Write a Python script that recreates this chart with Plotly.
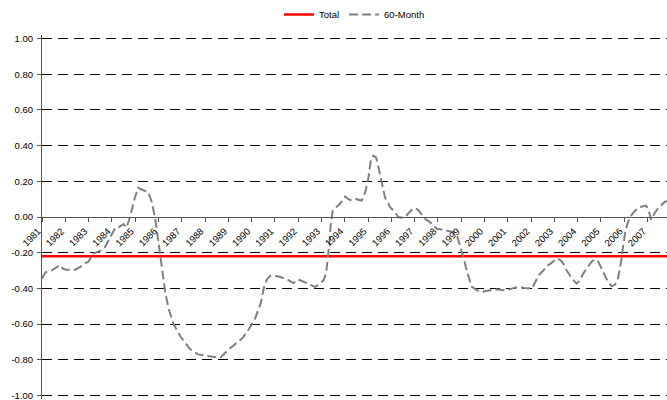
import plotly.graph_objects as go

# 60-month rolling series (decimal year, value)
t_60m = [1981.00, 1981.15, 1981.40, 1981.65, 1981.77, 1981.90, 1982.05, 1982.43, 1982.64, 1982.85,
         1983.00, 1983.20, 1983.50, 1983.70, 1983.90, 1984.15, 1984.30, 1984.50, 1984.63, 1984.78,
         1984.99, 1985.13, 1985.35, 1985.56, 1985.70, 1985.85, 1985.95, 1986.05, 1986.15, 1986.30,
         1986.45, 1986.65, 1986.95, 1987.35, 1987.70, 1988.10, 1988.65, 1988.95, 1989.30, 1989.60,
         1989.90, 1990.15, 1990.40, 1990.52, 1990.66, 1990.80, 1990.94, 1991.23, 1991.52, 1991.80,
         1992.01, 1992.23, 1992.52, 1992.73, 1992.94, 1993.09, 1993.20, 1993.26, 1993.34, 1993.40,
         1993.49, 1993.63, 1993.77, 1994.02, 1994.16, 1994.30, 1994.49, 1994.73, 1994.88, 1995.02,
         1995.12, 1995.23, 1995.35, 1995.45, 1995.59, 1995.73, 1995.95, 1996.16, 1996.30, 1996.50,
         1996.66, 1996.88, 1997.02, 1997.15, 1997.31, 1997.45, 1997.67, 1997.95, 1998.17, 1998.31,
         1998.67, 1998.81, 1998.95, 1999.10, 1999.24, 1999.34, 1999.46, 1999.67, 1999.88, 2000.24,
         2000.53, 2000.81, 2001.10, 2001.31, 2001.53, 2001.80, 2002.05, 2002.20, 2002.30, 2002.53,
         2002.67, 2002.85, 2003.10, 2003.25, 2003.38, 2003.53, 2003.67, 2003.82, 2003.96, 2004.10,
         2004.24, 2004.39, 2004.60, 2004.74, 2004.89, 2005.03, 2005.17, 2005.31, 2005.46, 2005.60,
         2005.72, 2005.81, 2005.88, 2005.95, 2006.06, 2006.16, 2006.30, 2006.44, 2006.66, 2006.94,
         2007.05, 2007.16, 2007.30, 2007.44, 2007.58, 2007.73, 2007.84]
v_60m = [-0.345, -0.31, -0.30, -0.28, -0.27, -0.29, -0.295, -0.295, -0.28, -0.26,
         -0.25, -0.205, -0.19, -0.17, -0.12, -0.06, -0.057, -0.04, -0.06, 0.00,
         0.11, 0.163, 0.15, 0.14, 0.09, 0.00, -0.09, -0.19, -0.30, -0.43,
         -0.52, -0.60, -0.67, -0.74, -0.77, -0.78, -0.79, -0.75, -0.71, -0.68,
         -0.625, -0.57, -0.48, -0.40, -0.35, -0.33, -0.327, -0.336, -0.35, -0.37,
         -0.35, -0.364, -0.383, -0.392, -0.373, -0.355, -0.317, -0.25, -0.15, -0.04,
         0.036, 0.055, 0.07, 0.115, 0.10, 0.092, 0.10, 0.092, 0.139, 0.222,
         0.316, 0.344, 0.334, 0.278, 0.194, 0.11, 0.055, 0.027, 0.00, -0.005,
         0.01, 0.04, 0.05, 0.04, 0.014, -0.01, -0.03, -0.066, -0.07, -0.075,
         -0.085, -0.10, -0.16, -0.225, -0.30, -0.345, -0.392, -0.41, -0.42, -0.41,
         -0.405, -0.41, -0.405, -0.396, -0.392, -0.40, -0.40, -0.36, -0.33, -0.30,
         -0.277, -0.26, -0.234, -0.24, -0.26, -0.30, -0.327, -0.355, -0.373, -0.355,
         -0.317, -0.29, -0.25, -0.237, -0.25, -0.29, -0.327, -0.364, -0.388, -0.38,
         -0.355, -0.30, -0.243, -0.169, -0.075, -0.029, 0.008, 0.032, 0.055, 0.064,
         0.04, -0.016, 0.02, 0.046, 0.064, 0.083, 0.09]

total_value = -0.22

year_ticks = list(range(1981, 2008))
year_labels = [str(y) for y in year_ticks]
y_ticks = [1.0, 0.8, 0.6, 0.4, 0.2, 0.0, -0.2, -0.4, -0.6, -0.8, -1.0]
y_labels = ["1.00", "0.80", "0.60", "0.40", "0.20", "0.00", "-0.20", "-0.40", "-0.60", "-0.80", "-1.00"]

FONT = "Liberation Sans, Arial, sans-serif"

fig = go.Figure()
fig.add_trace(go.Scatter(
    x=[t_60m[0], t_60m[-1]], y=[total_value, total_value], mode="lines", name="Total",
    line=dict(color="#ff0000", width=2.5)))
fig.add_trace(go.Scatter(
    x=t_60m, y=v_60m, mode="lines", name="60-Month",
    line=dict(color="#808080", width=2, dash="9px,4px")))

fig.update_layout(
    width=667, height=400,
    margin=dict(l=42, r=0, t=33.9, b=0.9),
    paper_bgcolor="white", plot_bgcolor="white",
    font=dict(family=FONT, size=9.5, color="black"),
    showlegend=True,
    legend=dict(orientation="h", x=0.5, xanchor="center", y=1.055, yanchor="middle",
                font=dict(size=9.5), itemwidth=30, bgcolor="rgba(0,0,0,0)"),
    xaxis=dict(range=[t_60m[0], t_60m[-1]], tickvals=year_ticks, ticktext=year_labels,
               tickangle=-45, showgrid=False, zeroline=False,
               showline=True, linecolor="#555555", linewidth=1,
               ticks="outside", ticklen=4, tickcolor="#555555",
               ticklabelshift=-4, ticklabelstandoff=0,
               anchor="free", position=0.5, tickfont=dict(size=9.5)),
    yaxis=dict(range=[-1.02, 1.02], domain=[0, 1], tickvals=y_ticks, ticktext=y_labels,
               showgrid=True, gridcolor="black", gridwidth=1, griddash="10px,6px",
               zeroline=False, showline=True, linecolor="#555555", linewidth=1,
               ticks="outside", ticklen=4, tickcolor="#555555",
               ticklabeloverflow="allow", ticklabelstandoff=2, tickfont=dict(size=9.5)),
)

fig.write_html("out.html", config={"displayModeBar": False},
               post_script="document.body.style.margin='0';document.body.style.overflow='hidden';")
